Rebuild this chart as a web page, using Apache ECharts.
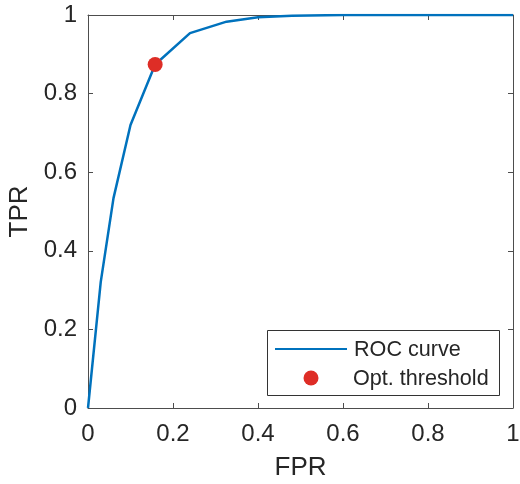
<!DOCTYPE html>
<html><head><meta charset="utf-8">
<script src="https://cdn.jsdelivr.net/npm/echarts@6/dist/echarts.min.js"></script>
<style>html,body{margin:0;padding:0;background:#fff}#c{width:520px;height:484px}</style>
</head><body><div id="c"></div>
<script>
var fpr = [0, 0.03, 0.06, 0.10, 0.158, 0.24, 0.326, 0.40, 0.48, 0.60, 1.0];
var tpr = [0, 0.321, 0.534, 0.72, 0.874, 0.954, 0.983, 0.994, 0.998, 1.0, 1.0];
var optPoint = [0.158, 0.874];
var seriesNames = ['ROC curve', 'Opt. threshold'];

var font = 'Liberation Sans';
var textColor = '#262626';
var lineColor = '#4d4d4d';
var blue = '#0072BD';
var red = '#DE2D26';
var chart = echarts.init(document.getElementById('c'), null, {renderer: 'canvas'});
function fmt(v){ return String(Math.round(v*10)/10); }
function axis(pos, showLabels, margin, extra) {
  var a = {
    type: 'value', min: 0, max: 1, interval: 0.2, position: pos,
    axisLine: {show: true, onZero: false, lineStyle: {color: lineColor, width: 1}},
    axisTick: {show: true, inside: true, length: 5, lineStyle: {color: lineColor, width: 1}},
    splitLine: {show: false},
    axisLabel: {show: showLabels, color: textColor, fontFamily: font, fontSize: 24, formatter: fmt, margin: margin}
  };
  for (var k in extra) a[k] = extra[k];
  return a;
}
var data = fpr.map(function(x, i){ return [x, tpr[i]]; });
chart.setOption({
  animation: false,
  grid: {left: 88, right: 7, top: 15, bottom: 76, containLabel: false, outerBoundsMode: 'none'},
  xAxis: [
    axis('bottom', true, 14, {name: 'FPR', nameLocation: 'middle', nameGap: 47,
      nameTextStyle: {color: textColor, fontFamily: font, fontSize: 26}}),
    axis('top', false, 8, {})
  ],
  yAxis: [
    axis('left', true, 11, {name: 'TPR', nameLocation: 'middle', nameGap: 53,
      nameTextStyle: {color: textColor, fontFamily: font, fontSize: 26}}),
    axis('right', false, 8, {})
  ],
  series: [
    {name: seriesNames[0], type: 'line', data: data, symbol: 'none', showSymbol: false,
      lineStyle: {color: blue, width: 2.5}, itemStyle: {color: blue}, z: 2},
    {name: seriesNames[1], type: 'scatter', data: [optPoint], symbol: 'circle', symbolSize: 15,
      itemStyle: {color: red, opacity: 1}, z: 3}
  ],
  graphic: [
    {type: 'rect', z: 10,
      shape: {x: 267.5, y: 330.5, width: 232, height: 65}, style: {fill: '#fff', stroke: '#333', lineWidth: 1}},
    {type: 'line', z: 11, shape: {x1: 275, y1: 349, x2: 347, y2: 349},
      style: {stroke: blue, lineWidth: 2}},
    {type: 'circle', z: 11, shape: {cx: 311, cy: 378, r: 7.5}, style: {fill: red}},
    {type: 'text', z: 11, x: 354, y: 350,
      style: {text: seriesNames[0], fill: textColor, font: '21.6px "Liberation Sans"', verticalAlign: 'middle', align: 'left'}},
    {type: 'text', z: 11, x: 353, y: 379,
      style: {text: seriesNames[1], fill: textColor, font: '21.6px "Liberation Sans"', verticalAlign: 'middle', align: 'left'}}
  ]
});
</script></body></html>
